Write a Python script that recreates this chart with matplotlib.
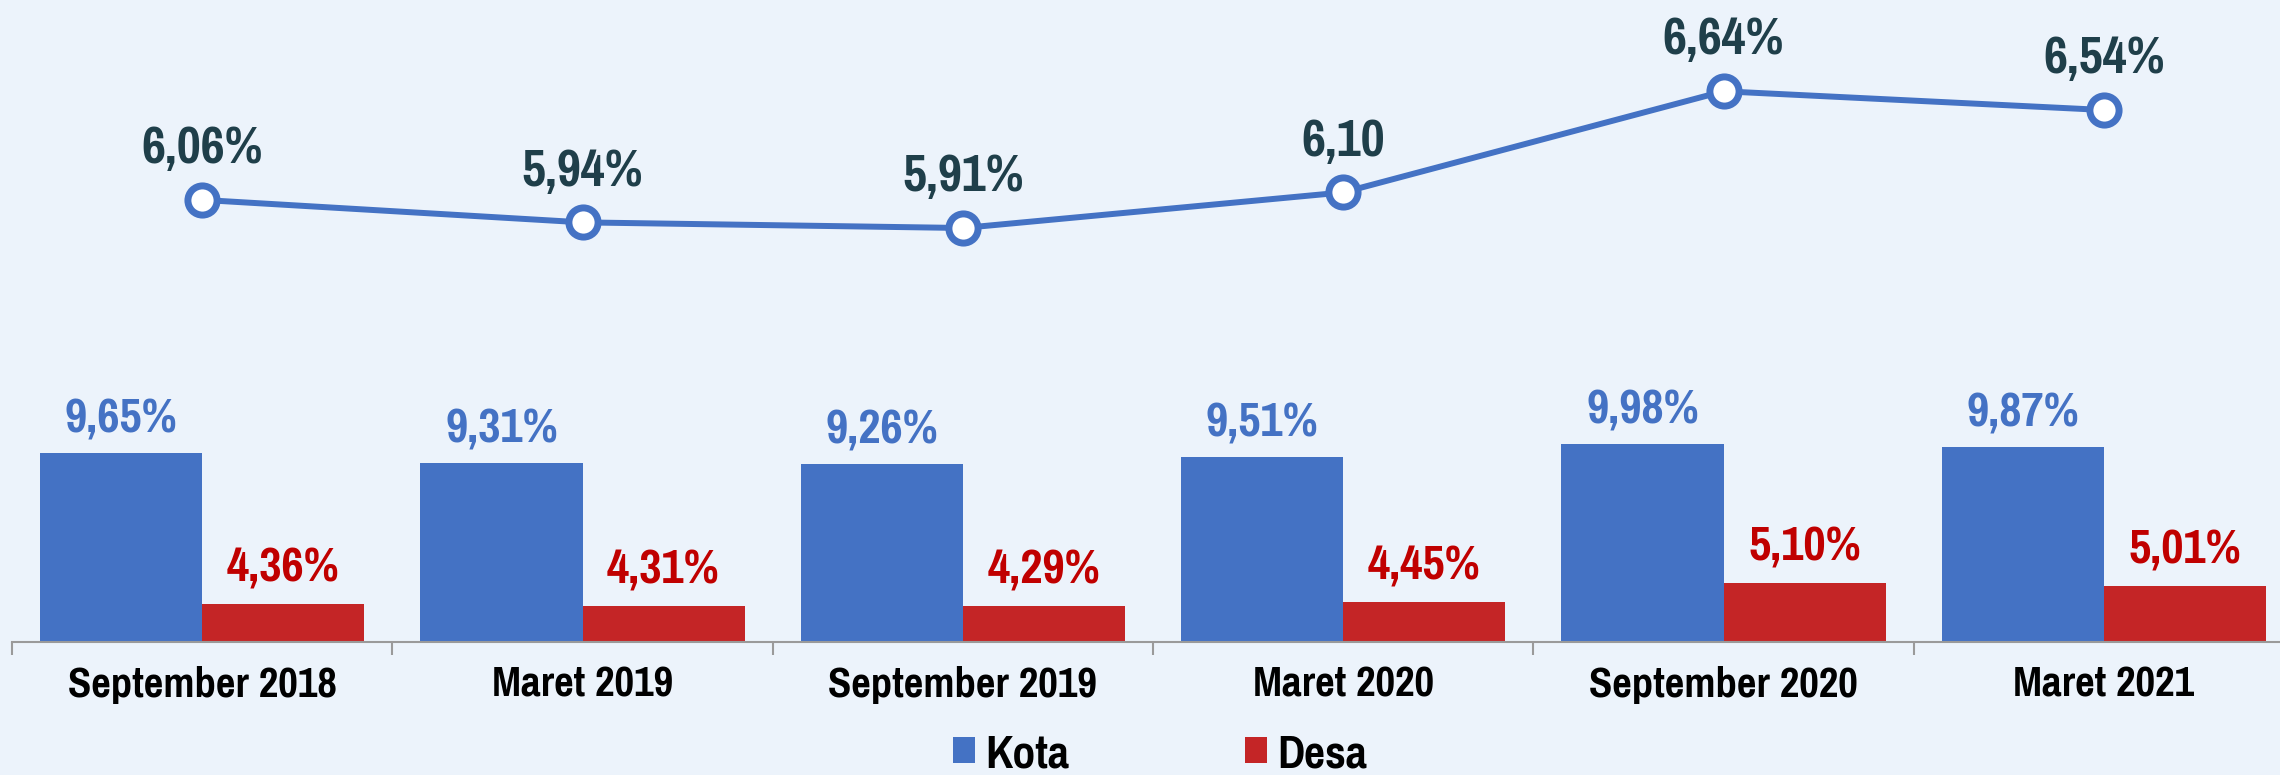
import matplotlib
matplotlib.use("Agg")
import matplotlib.pyplot as plt
import numpy as np
from matplotlib import font_manager

categories = ["September 2018", "Maret 2019", "September 2019", "Maret 2020", "September 2020", "Maret 2021"]
kota = [9.65, 9.31, 9.26, 9.51, 9.98, 9.87]
desa = [4.36, 4.31, 4.29, 4.45, 5.10, 5.01]
total = [6.06, 5.94, 5.91, 6.10, 6.64, 6.54]
total_labels = ["6,06%", "5,94%", "5,91%", "6,10", "6,64%", "6,54%"]

names = {f.name for f in font_manager.fontManager.ttflist}
fam = next((n for n in ["Liberation Sans Narrow", "Arial Narrow", "Pragati Narrow", "Roboto Condensed"]
            if n in names), "Liberation Sans")
plt.rcParams["font.family"] = [fam, "DejaVu Sans"]

BG = "#ECF3FB"
BLUE = "#4472C4"
RED = "#C42526"
RED_TXT = "#C00000"
DARK = "#1F3F4A"

fig = plt.figure(figsize=(22.8, 7.75), dpi=100, facecolor=BG)
W, H = 2280, 775
left = 12 / W
width = 2282 / W
bottom = (H - 642) / H
ax = fig.add_axes([left, bottom, width, 1 - bottom])
ax.set_facecolor(BG)
ax.patch.set_alpha(0)

x = np.arange(len(categories))
bw = 0.426
b1 = ax.bar(x - bw / 2, kota, bw, color=BLUE, label="Kota")
b2 = ax.bar(x + bw / 2, desa, bw, color=RED, label="Desa")
ax.set_ylim(3.03, 3.03 + 642 / 28.5)
ax.set_xlim(-0.5, 5.5)

def fmt(v):
    return f"{v:.2f}".replace(".", ",") + "%"

for xi, v in zip(x, kota):
    ax.annotate(fmt(v), (xi - bw / 2, v), xytext=(0, 15),
                textcoords="offset points", ha="center", va="baseline",
                fontsize=38, fontweight="bold", color=BLUE)
for xi, v in zip(x, desa):
    ax.annotate(fmt(v), (xi + bw / 2, v), xytext=(0, 16),
                textcoords="offset points", ha="center", va="baseline",
                fontsize=38, fontweight="bold", color=RED_TXT)

for s in ["top", "right", "left"]:
    ax.spines[s].set_visible(False)
ax.spines["bottom"].set_color("#9A9A9A")
ax.spines["bottom"].set_linewidth(1.5)
ax.set_yticks([])
ax.set_xticks(x)
ax.set_xticklabels(categories, fontsize=33.5, fontweight="bold", color="black")
ax.tick_params(axis="x", which="major", length=0, pad=17)
ax.set_xticks(np.arange(-0.5, 6.0, 1.0), minor=True)
ax.tick_params(axis="x", which="minor", length=9.5, width=1.5, color="#9A9A9A")

ax2 = ax.twinx()
ax2.patch.set_alpha(0)
ax2.set_ylim(6.54 - (642 - 110) / 187.3, 6.54 + 110 / 187.3)
ax2.plot(x, total, color=BLUE, lw=4.3, marker="o", ms=21, mfc="white",
         mec=BLUE, mew=5, solid_capstyle="round", zorder=5)
for xi, v, lab in zip(x, total, total_labels):
    ax2.annotate(lab, (xi, v), xytext=(0, 26.5), textcoords="offset points",
                 ha="center", va="baseline", fontsize=41, fontweight="bold", color=DARK)
ax2.set_yticks([])
for s in ax2.spines.values():
    s.set_visible(False)

leg = fig.legend(handles=[b1, b2], labels=["Kota", "Desa"], loc="center",
                 bbox_to_anchor=(1160 / W, (H - 755) / H), ncol=2, frameon=False,
                 prop={"weight": "bold", "size": 36},
                 handlelength=0.44, handleheight=0.44, handletextpad=0.22,
                 columnspacing=3.5, borderpad=0, borderaxespad=0)

fig.savefig("out.png", dpi=100, facecolor=BG)
